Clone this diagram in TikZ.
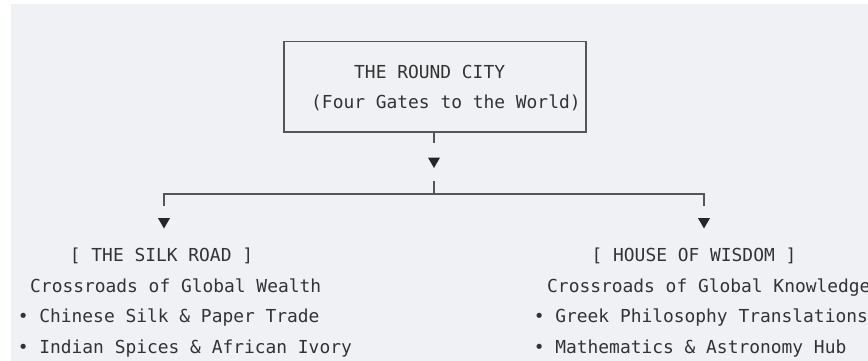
\documentclass[tikz,border=0pt]{standalone}
\usepackage{fontspec}
\setmonofont{DejaVu Sans Mono}
\usetikzlibrary{shapes.geometric}

\definecolor{panelbg}{HTML}{F0F1F5}
\definecolor{inkgray}{HTML}{333333}
\definecolor{rulegray}{HTML}{555555}

\tikzset{
  mono/.style={font=\ttfamily\fontsize{17.9}{21}\selectfont,text=inkgray,inner sep=0pt},
  rule/.style={draw=rulegray,line width=1.5pt},
  pointer/.style={regular polygon,regular polygon sides=3,shape border rotate=180,fill=black!85,inner sep=0pt,minimum size=14pt},
}

\begin{document}
\begin{tikzpicture}[x=1pt,y=-1pt]

\useasboundingbox (0,0) rectangle (868,361);
\fill [white] (0,0) rectangle (868,361);
\fill [panelbg] (11,4) rectangle (868,361);

%-----------------------------------------------------
\node (city) at(435,86.75) [rule,rectangle,minimum width=302pt,minimum height=90.5pt,inner sep=0pt]{};
\node (cityname) at(354,78.5) [mono,anchor=base west]{THE ROUND CITY};
\node (citygates) at(311,109) [mono,anchor=base west]{(Four Gates to the World)};

\node (down) at(434,161) [pointer]{};
\coordinate (fork) at(434,194);

\draw [rule,shorten >=14pt] (city.south -| down) -- (down.north);
\draw [rule,shorten <=13pt] (down.south) -- (fork);

%-----------------------------------------------------
\node (silkdown) at(164,221.5) [pointer]{};
\node (wisdomdown) at(704,221.5) [pointer]{};

\draw [rule,shorten <=12pt,shorten >=12pt] (silkdown.north) |- (fork) -| (wisdomdown.north);

%-----------------------------------------------------
\node (silk) at(161.5,261.5) [mono,anchor=base]{[ THE SILK ROAD ]};
\node (wealth) at(30,292) [mono,anchor=base west]{Crossroads of Global Wealth};
\node (silkA) at(17.6,322.5) [mono,anchor=base west]{• Chinese Silk \& Paper Trade};
\node (silkB) at(17.6,353) [mono,anchor=base west]{• Indian Spices \& African Ivory};

%-----------------------------------------------------
\node (wisdom) at(694,261.5) [mono,anchor=base]{[ HOUSE OF WISDOM ]};
\node (knowledge) at(547,292) [mono,anchor=base west]{Crossroads of Global Knowledge};
\node (wisdomA) at(533.6,322.5) [mono,anchor=base west]{• Greek Philosophy Translations};
\node (wisdomB) at(533.6,353) [mono,anchor=base west]{• Mathematics \& Astronomy Hub};

\end{tikzpicture}
\end{document}
